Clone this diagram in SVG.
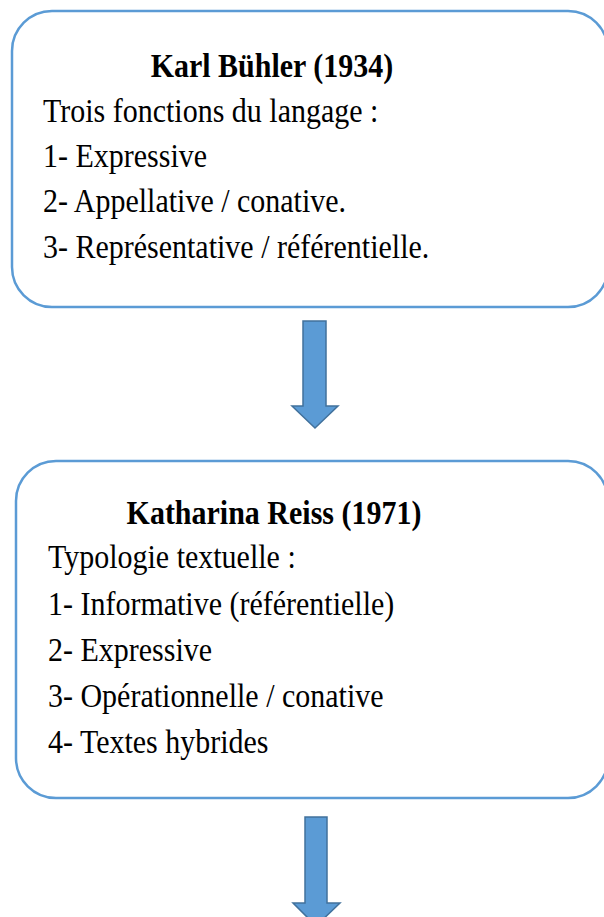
<svg xmlns="http://www.w3.org/2000/svg" width="604" height="917" viewBox="0 0 604 917">
<style>
.box{fill:#fff;stroke:#5B9BD5;stroke-width:2.5}
.arrow{fill:#5B9BD5;stroke:#41719C;stroke-width:1.5}
.t{font-family:"Liberation Serif","Times New Roman",serif;font-size:30px;fill:#000}
.b{font-weight:bold;text-anchor:middle}
</style>
<rect width="604" height="917" fill="#fff"/>
<g id="node-buhler">
<rect class="box" x="12" y="11" width="596" height="296" rx="40" ry="40"/>
<text class="t b" x="272" y="0" transform="translate(0,77) scale(1,1.15)">Karl Bühler (1934)</text>
<text class="t" x="43" y="0" transform="translate(0,122) scale(1,1.15)">Trois fonctions du langage :</text>
<text class="t" x="43" y="0" transform="translate(0,167) scale(1,1.15)">1- Expressive</text>
<text class="t" x="43" y="0" transform="translate(0,212) scale(1,1.15)">2- Appellative / conative.</text>
<text class="t" x="43" y="0" transform="translate(0,258) scale(1,1.15)">3- Représentative / référentielle.</text>
</g>
<g id="node-reiss">
<rect class="box" x="16" y="461" width="592" height="337" rx="40" ry="40"/>
<text class="t b" x="274" y="0" transform="translate(0,524) scale(1,1.15)">Katharina Reiss (1971)</text>
<text class="t" x="48" y="0" transform="translate(0,568) scale(1,1.15)">Typologie textuelle :</text>
<text class="t" x="48" y="0" transform="translate(0,615) scale(1,1.15)">1- Informative (référentielle)</text>
<text class="t" x="48" y="0" transform="translate(0,661) scale(1,1.15)">2- Expressive</text>
<text class="t" x="48" y="0" transform="translate(0,707) scale(1,1.15)">3- Opérationnelle / conative</text>
<text class="t" x="48" y="0" transform="translate(0,753) scale(1,1.15)">4- Textes hybrides</text>
</g>
<g id="connectors">
<path class="arrow" d="M303,321 H326 V406 H338 L315,428 L292,406 H303 Z"/>
<path class="arrow" d="M305,817 H327 V903 H340 L316,926 L293,903 H305 Z"/>
</g>
</svg>
